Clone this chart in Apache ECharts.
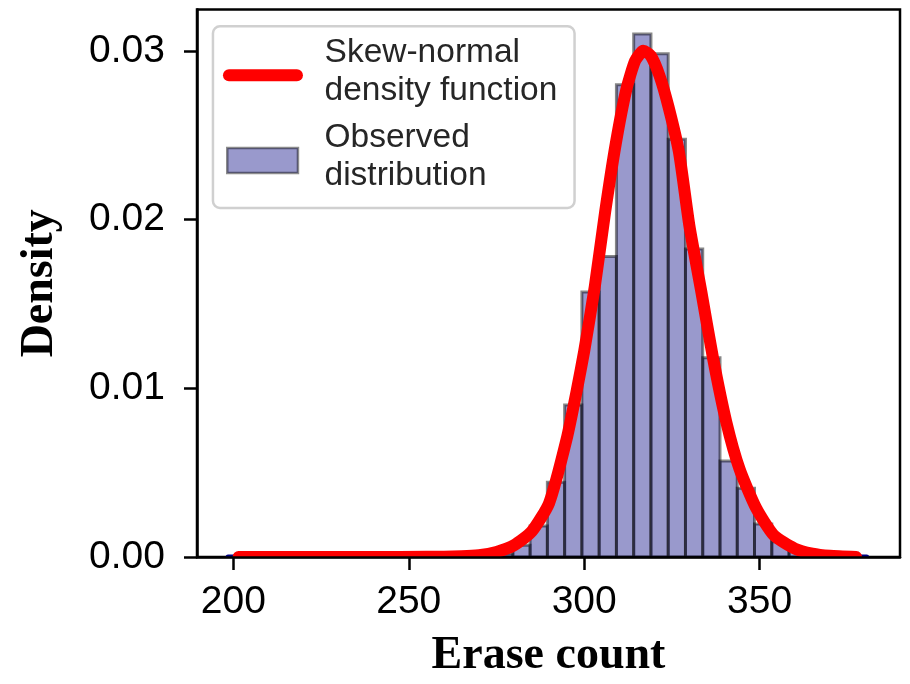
<!DOCTYPE html>
<html>
<head>
<meta charset="utf-8">
<title>Erase count distribution</title>
<script src="https://cdn.jsdelivr.net/npm/echarts@6/dist/echarts.min.js"></script>
<style>
  html, body { margin: 0; padding: 0; background: #ffffff; }
  #chart { width: 910px; height: 684px; }
</style>
</head>
<body>
<div id="chart"></div>
<script>
// Histogram of erase counts (density-normalised), uniform bins
const binEdges = [274.74, 279.66, 284.58, 289.50, 294.42, 299.34, 304.26, 309.18, 314.10,
                  319.02, 323.94, 328.86, 333.78, 338.70, 343.62, 348.54, 353.46, 358.38,
                  363.30, 368.22];
const binDensity = [0.0002, 0.0007, 0.00184, 0.00443, 0.00901, 0.01570, 0.01781, 0.02799,
                    0.03100, 0.02983, 0.02476, 0.01825, 0.01181, 0.00569, 0.00408, 0.00195,
                    0.0009, 0.0004, 0.0001];

// Fitted skew-normal density, sampled along the erase-count range
const curveX = [201.5, 240, 255, 265, 270, 275, 280, 285, 290, 295, 298, 300, 303, 306, 309,
                312, 314.5, 316.8, 319, 321.5, 324, 327, 330, 333.4, 336.7, 340.5, 344.3, 349,
                354, 360, 365, 370, 377.5];
const curveY = [0, 0, 0.00001, 0.00004, 0.0001, 0.0003, 0.0007, 0.0015, 0.0032, 0.0070, 0.0100,
                0.0122, 0.0160, 0.0205, 0.0245, 0.0277, 0.0294, 0.0300, 0.0297, 0.0285, 0.0267,
                0.0240, 0.0196, 0.0157, 0.0118, 0.0080, 0.0052, 0.0029, 0.0013, 0.0005, 0.0002,
                0.00007, 0];

// Observed sample extent (min / max erase count)
const sampleMin = 198.5;
const sampleMax = 380.5;

const xTicks = [200, 250, 300, 350];
const yTicks = [0, 0.01, 0.02, 0.03];

const legendLabels = ['Skew-normal\ndensity function', 'Observed\ndistribution'];

const SANS = '"Liberation Sans", Arial, Helvetica, sans-serif';
const SERIF = '"Liberation Serif", "Times New Roman", Times, serif';
const BAR_FILL = 'rgba(0,0,128,0.4)';
const BAR_EDGE = 'rgba(0,0,0,0.47)';

const barData = binDensity.map((d, i) => [binEdges[i], binEdges[i + 1], d]);
const curveData = curveX.map((x, i) => [x, curveY[i]]);
const navyX = [sampleMin].concat(curveX, [sampleMax]);
const navyY = [0].concat(curveY, [0]);
const navyData = navyX.map((x, i) => [x, navyY[i]]);

// Draws a whole curve as one smooth polyline, mapped through the axes
function curveRenderer(points, color, width) {
  return function (params, api) {
    if (params.dataIndex !== 0) return null;
    const pts = points.map(p => api.coord(p));
    return {
      type: 'polyline',
      shape: { points: pts, smooth: 0.2 },
      style: { stroke: color, lineWidth: width, fill: null, lineCap: 'round', lineJoin: 'round' }
    };
  };
}

const chart = echarts.init(document.getElementById('chart'), null, { renderer: 'canvas' });

const axisCommon = {
  axisLine: { show: true, onZero: false, lineStyle: { color: '#000', width: 2.5 } },
  axisTick: { show: true, inside: false, length: 13, lineStyle: { color: '#000', width: 2.5 } },
  splitLine: { show: false },
  z: 10
};

chart.setOption({
  animation: false,
  backgroundColor: '#ffffff',
  grid: {
    left: 197, right: 10, top: 9.5, bottom: 118,
    show: true, borderColor: '#000', borderWidth: 2.5, backgroundColor: 'transparent'
  },
  xAxis: Object.assign({}, axisCommon, {
    type: 'value',
    min: 189.65,
    max: 390,
    axisTick: Object.assign({}, axisCommon.axisTick, { customValues: xTicks }),
    axisLabel: {
      customValues: xTicks,
      formatter: v => String(v),
      fontFamily: SANS, fontSize: 39, color: '#000',
      margin: 45, verticalAlign: 'middle'
    },
    name: 'Erase count',
    nameLocation: 'middle',
    nameGap: 99,
    nameTextStyle: {
      fontFamily: SERIF, fontWeight: 'bold', fontSize: 46, color: '#000', verticalAlign: 'middle'
    }
  }),
  yAxis: Object.assign({}, axisCommon, {
    type: 'value',
    min: 0,
    max: 0.03245,
    axisTick: Object.assign({}, axisCommon.axisTick, { customValues: yTicks }),
    axisLabel: {
      customValues: yTicks,
      formatter: v => v.toFixed(2),
      fontFamily: SANS, fontSize: 39, color: '#000',
      margin: 32, verticalAlign: 'middle'
    },
    name: 'Density',
    nameLocation: 'middle',
    nameGap: 157,
    nameRotate: 90,
    nameTextStyle: {
      fontFamily: SERIF, fontWeight: 'bold', fontSize: 46, color: '#000', verticalAlign: 'middle'
    }
  }),
  series: [
    {
      name: 'Observed distribution',
      type: 'custom',
      clip: true,
      z: 2,
      data: barData,
      encode: { x: [0, 1], y: 2 },
      renderItem: function (params, api) {
        const p0 = api.coord([api.value(0), 0]);
        const p1 = api.coord([api.value(1), api.value(2)]);
        return {
          type: 'rect',
          shape: { x: p0[0], y: p1[1], width: p1[0] - p0[0], height: p0[1] - p1[1] },
          style: { fill: BAR_FILL, stroke: BAR_EDGE, lineWidth: 3 }
        };
      }
    },
    {
      name: 'Sample density',
      type: 'custom',
      clip: true,
      z: 3,
      data: navyData,
      encode: { x: 0, y: 1 },
      renderItem: curveRenderer(navyData, '#000080', 5)
    },
    {
      name: 'Skew-normal density function',
      type: 'custom',
      clip: true,
      z: 4,
      data: curveData,
      encode: { x: 0, y: 1 },
      renderItem: curveRenderer(curveData, '#ff0000', 12)
    }
  ],
  graphic: [
    {
      type: 'group',
      left: 211.7,
      top: 25,
      z: 20,
      children: [
        {
          type: 'rect',
          shape: { x: 0, y: 0, width: 361.6, height: 181.7, r: 7 },
          style: { fill: 'rgba(255,255,255,0.8)', stroke: '#d0d0d0', lineWidth: 2.5 }
        },
        {
          type: 'line',
          shape: { x1: 16, y1: 49, x2: 84, y2: 49 },
          style: { stroke: '#ff0000', lineWidth: 12, lineCap: 'round' }
        },
        {
          type: 'rect',
          shape: { x: 14.3, y: 121.7, width: 70.7, height: 25 },
          style: { fill: BAR_FILL, stroke: 'rgba(0,0,0,0.45)', lineWidth: 2.5 }
        },
        {
          type: 'text',
          x: 111.6, y: 8,
          style: {
            text: legendLabels[0], fontFamily: SANS, fontSize: 33.5, fill: '#262626',
            lineHeight: 37.5, verticalAlign: 'top', align: 'left'
          }
        },
        {
          type: 'text',
          x: 111.6, y: 93,
          style: {
            text: legendLabels[1], fontFamily: SANS, fontSize: 33.5, fill: '#262626',
            lineHeight: 37.5, verticalAlign: 'top', align: 'left'
          }
        }
      ]
    }
  ]
});
</script>
</body>
</html>
